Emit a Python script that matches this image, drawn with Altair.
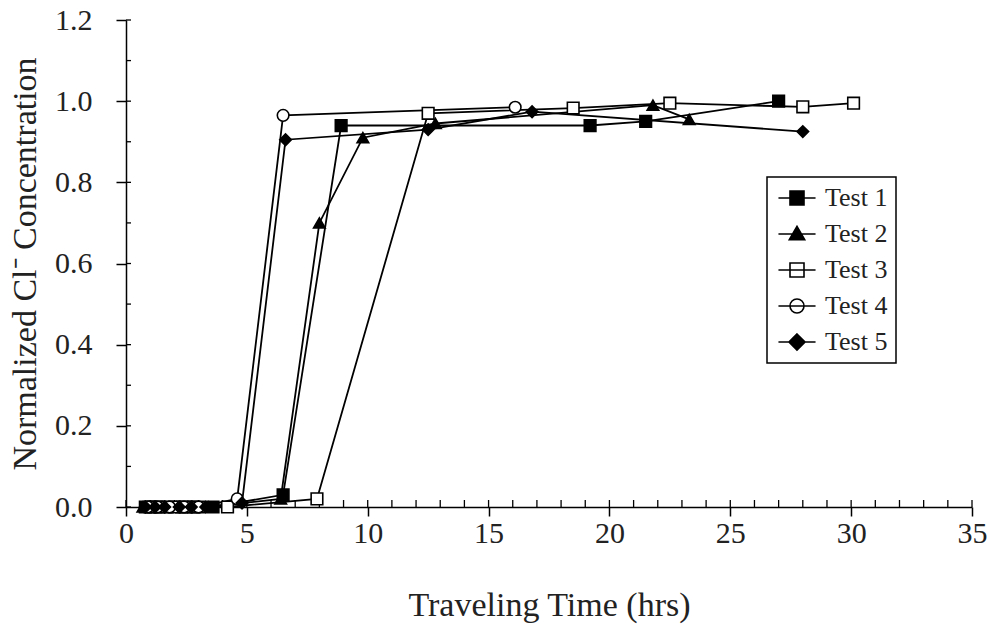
import altair as alt
import pandas as pd

tests = ["Test 1", "Test 2", "Test 3", "Test 4", "Test 5"]

t1_time = [0.8, 1.2, 1.7, 2.3, 2.8, 3.6, 6.5, 8.9, 19.2, 21.5, 27.0]
t1_conc = [0.0, 0.0, 0.0, 0.0, 0.0, 0.0, 0.03, 0.94, 0.94, 0.95, 1.0]

t2_time = [0.7, 1.1, 1.5, 2.1, 2.6, 3.4, 6.4, 8.0, 9.8, 12.8, 21.8, 23.3]
t2_conc = [0.0, 0.0, 0.0, 0.0, 0.0, 0.0, 0.02, 0.70, 0.91, 0.945, 0.99, 0.955]

t3_time = [1.0, 1.4, 2.0, 2.5, 3.0, 4.2, 7.9, 12.5, 18.5, 22.5, 28.0, 30.1]
t3_conc = [0.0, 0.0, 0.0, 0.0, 0.0, 0.0, 0.02, 0.97, 0.983, 0.995, 0.986, 0.995]

t4_time = [0.9, 1.3, 1.8, 2.4, 3.0, 4.6, 6.5, 16.1]
t4_conc = [0.0, 0.0, 0.0, 0.0, 0.0, 0.02, 0.965, 0.985]

t5_time = [0.8, 1.2, 1.6, 2.2, 2.7, 3.3, 4.8, 6.6, 12.5, 16.8, 28.0]
t5_conc = [0.0, 0.0, 0.0, 0.0, 0.0, 0.0, 0.01, 0.905, 0.93, 0.974, 0.925]

x_major = [0, 5, 10, 15, 20, 25, 30, 35]
x_minor = list(range(0, 36))
y_major = [0.0, 0.2, 0.4, 0.6, 0.8, 1.0, 1.2]
y_minor = [0.0, 0.1, 0.2, 0.3, 0.4, 0.5, 0.6, 0.7, 0.8, 0.9, 1.0, 1.1, 1.2]

marker_shapes = ["square", "triangle-up", "square", "circle", "diamond"]
marker_fills = ["black", "black", "white", "white", "black"]

L = 2.65
legend_shapes = [
    f"M{-L},0H{L}M-1,-1H1V1H-1Z",
    f"M{-L},0H{L}M0,-1.1L1.1,0.8H-1.1Z",
    f"M{-L},0H{L}M-1,-1H1V1H-1Z",
    f"M{-L},0H{L}M1,0A1,1,0,1,1,-1,0A1,1,0,1,1,1,0Z",
    f"M{-L},0H{L}M0,-1.15L1.15,0L0,1.15L-1.15,0Z",
]

rows = []
for i, (name, ts, cs) in enumerate(zip(tests, [t1_time, t2_time, t3_time, t4_time, t5_time],
                                       [t1_conc, t2_conc, t3_conc, t4_conc, t5_conc])):
    for k, (t, c) in enumerate(zip(ts, cs)):
        rows.append({"test": name, "t": t, "c": c, "k": k,
                     "shp": marker_shapes[i], "fl": marker_fills[i]})
df = pd.DataFrame(rows)

W, H = 846, 487
FONT = "Liberation Serif"

xscale = alt.Scale(domain=[0, 35], nice=False, zero=False)
yscale = alt.Scale(domain=[0, 1.2], nice=False, zero=False)
xaxis = alt.Axis(title="Traveling Time (hrs)", values=x_major, format="d",
                 tickSize=9, labelPadding=2, titlePadding=40, labelFlush=False)
yaxis = alt.Axis(title="Normalized Cl⁻ Concentration", values=y_major, format=".1f",
                 tickSize=10, labelPadding=24, titlePadding=12, labelFlush=False)
X = alt.X("t:Q", scale=xscale, axis=xaxis)
Y = alt.Y("c:Q", scale=yscale, axis=yaxis)

base = alt.Chart(df)

lines = base.mark_line(color="black", strokeWidth=1.8).encode(
    x=X, y=Y, detail="test:N", order="k:Q",
)

points = base.mark_point(size=135, stroke="black", strokeWidth=1.6, opacity=1).encode(
    x=X, y=Y,
    shape=alt.Shape("shp:N", scale=None),
    fill=alt.Fill("fl:N", scale=None),
)

legend_layer = base.transform_filter("false").mark_point(
    size=196, strokeWidth=1.6, opacity=1).encode(
    x=X, y=Y,
    shape=alt.Shape("test:N", scale=alt.Scale(domain=tests, range=legend_shapes),
                    legend=alt.Legend(title=None)),
    fill=alt.Fill("test:N", scale=alt.Scale(domain=tests, range=marker_fills),
                  legend=alt.Legend(title=None)),
    stroke=alt.Stroke("test:N", scale=alt.Scale(domain=tests, range=["black"] * 5),
                      legend=alt.Legend(title=None)),
)

xticks = alt.Chart(pd.DataFrame({"t": x_minor})).mark_rule(color="black", strokeWidth=1.3).encode(
    x=X, y=alt.value(H - 7), y2=alt.value(H),
)

yticks = alt.Chart(pd.DataFrame({"c": y_minor})).mark_rule(color="black", strokeWidth=1.3).encode(
    y=Y, x=alt.value(0), x2=alt.value(5),
)

chart = alt.layer(lines, xticks, yticks, points, legend_layer).properties(
    width=W, height=H,
    autosize=alt.AutoSizeParams(type="none"),
    padding={"left": 126, "top": 20, "right": 15, "bottom": 123},
    background="white",
).configure_view(stroke=None).configure_axis(
    grid=False,
    domainColor="black", domainWidth=1.5,
    tickColor="black", tickWidth=1.5,
    labelFont=FONT, labelFontSize=30, labelColor="#222222",
    titleFont=FONT, titleFontSize=34, titleFontWeight="normal", titleColor="#222222",
).configure_legend(
    orient="none", legendX=641, legendY=157,
    strokeColor="black", strokeWidth=1.5, fillColor="white",
    padding=8, labelFont=FONT, labelFontSize=26, labelColor="#222222",
    symbolSize=196, symbolStrokeWidth=1.6, symbolStrokeColor="black",
    symbolOffset=9, labelOffset=15, rowPadding=10,
)

chart.save("out.html", embed_options={"renderer": "svg", "actions": False})
